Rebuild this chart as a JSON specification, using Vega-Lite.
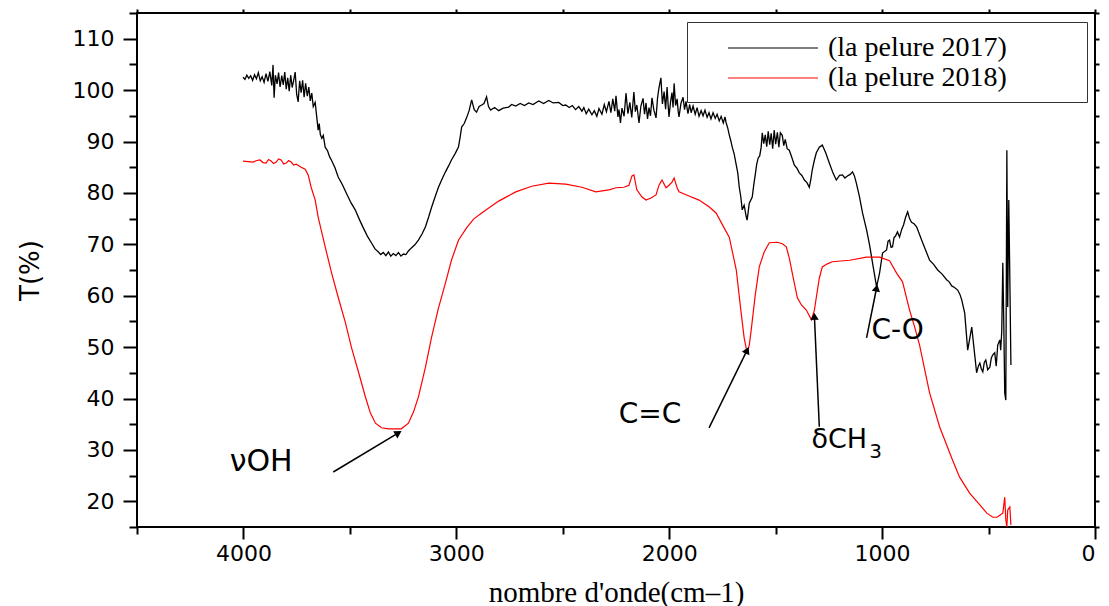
{
  "$schema": "https://vega.github.io/schema/vega-lite/v6.json",
  "autosize": {"type": "none"},
  "width": 958,
  "height": 514,
  "padding": {"left": 137, "top": 13, "right": 14, "bottom": 79},
  "background": "white",
  "config": {
    "view": {"stroke": "#000000", "strokeWidth": 2},
    "axis": {"domain": false, "grid": false, "tickColor": "#000000", "tickWidth": 2, "labelColor": "#000000", "titleColor": "#000000", "labelFont": "DejaVu Sans", "labelFontSize": 22}
  },
  "datasets": {
    "p2017": [
      {"w":4002,"t":102.5},{"w":3993,"t":102.1},{"w":3984,"t":102.9},{"w":3975,"t":102.3},{"w":3966,"t":102.8},{"w":3957,"t":101.9},{"w":3948,"t":103.0},{"w":3939,"t":102.2},{"w":3930,"t":103.4},{"w":3921,"t":101.8},{"w":3912,"t":102.6},{"w":3903,"t":101.5},{"w":3894,"t":103.2},{"w":3885,"t":101.7},{"w":3876,"t":103.6},{"w":3867,"t":100.9},{"w":3861,"t":104.9},{"w":3856,"t":98.5},{"w":3850,"t":102.9},{"w":3842,"t":101.2},{"w":3835,"t":103.4},{"w":3828,"t":100.6},{"w":3820,"t":102.8},{"w":3813,"t":101.0},{"w":3806,"t":103.5},{"w":3799,"t":100.2},{"w":3792,"t":102.4},{"w":3785,"t":99.8},{"w":3778,"t":102.9},{"w":3771,"t":100.5},{"w":3764,"t":101.9},{"w":3757,"t":103.5},{"w":3750,"t":99.2},{"w":3743,"t":97.7},{"w":3736,"t":101.8},{"w":3729,"t":99.5},{"w":3722,"t":101.9},{"w":3715,"t":98.6},{"w":3708,"t":101.3},{"w":3700,"t":98.8},{"w":3693,"t":100.6},{"w":3686,"t":97.9},{"w":3679,"t":99.4},{"w":3672,"t":96.8},{"w":3663,"t":97.6},{"w":3656,"t":94.9},{"w":3649,"t":92.2},{"w":3644,"t":93.5},{"w":3639,"t":91.4},{"w":3632,"t":90.6},{"w":3625,"t":91.2},{"w":3616,"t":88.9},{"w":3605,"t":88.2},{"w":3595,"t":87.0},{"w":3587,"t":86.4},{"w":3570,"t":84.9},{"w":3555,"t":83.1},{"w":3535,"t":81.6},{"w":3517,"t":80.0},{"w":3495,"t":78.1},{"w":3475,"t":76.7},{"w":3455,"t":74.8},{"w":3437,"t":73.2},{"w":3418,"t":71.6},{"w":3399,"t":70.3},{"w":3382,"t":69.1},{"w":3366,"t":68.5},{"w":3355,"t":68.0},{"w":3343,"t":68.4},{"w":3331,"t":67.8},{"w":3319,"t":68.5},{"w":3308,"t":67.7},{"w":3296,"t":68.2},{"w":3284,"t":67.8},{"w":3272,"t":68.4},{"w":3260,"t":67.7},{"w":3249,"t":68.1},{"w":3237,"t":68.0},{"w":3225,"t":68.7},{"w":3211,"t":69.3},{"w":3195,"t":69.9},{"w":3178,"t":70.8},{"w":3160,"t":72.1},{"w":3145,"t":73.4},{"w":3130,"t":75.3},{"w":3117,"t":77.1},{"w":3100,"t":79.2},{"w":3084,"t":81.1},{"w":3067,"t":82.7},{"w":3051,"t":84.1},{"w":3037,"t":85.2},{"w":3023,"t":86.4},{"w":3005,"t":87.7},{"w":2990,"t":88.9},{"w":2983,"t":90.6},{"w":2975,"t":92.8},{"w":2963,"t":93.5},{"w":2952,"t":94.6},{"w":2940,"t":96.0},{"w":2928,"t":98.1},{"w":2916,"t":96.2},{"w":2905,"t":95.7},{"w":2893,"t":96.8},{"w":2881,"t":97.1},{"w":2870,"t":97.4},{"w":2858,"t":98.7},{"w":2849,"t":96.8},{"w":2839,"t":96.1},{"w":2820,"t":96.6},{"w":2801,"t":96.0},{"w":2780,"t":96.5},{"w":2754,"t":96.7},{"w":2740,"t":97.2},{"w":2721,"t":96.9},{"w":2700,"t":97.4},{"w":2680,"t":97.0},{"w":2660,"t":97.5},{"w":2640,"t":97.2},{"w":2613,"t":97.9},{"w":2590,"t":97.4},{"w":2566,"t":98.0},{"w":2545,"t":97.5},{"w":2519,"t":97.6},{"w":2500,"t":97.0},{"w":2486,"t":97.1},{"w":2470,"t":96.6},{"w":2455,"t":97.0},{"w":2440,"t":96.2},{"w":2425,"t":96.8},{"w":2410,"t":95.9},{"w":2401,"t":96.6},{"w":2390,"t":95.4},{"w":2378,"t":96.3},{"w":2363,"t":95.2},{"w":2352,"t":96.0},{"w":2340,"t":94.9},{"w":2330,"t":96.4},{"w":2316,"t":95.3},{"w":2305,"t":97.2},{"w":2295,"t":95.8},{"w":2283,"t":97.8},{"w":2274,"t":95.6},{"w":2265,"t":98.3},{"w":2256,"t":95.9},{"w":2250,"t":98.9},{"w":2241,"t":94.8},{"w":2236,"t":96.2},{"w":2229,"t":93.6},{"w":2222,"t":96.5},{"w":2212,"t":94.9},{"w":2203,"t":99.4},{"w":2194,"t":95.4},{"w":2185,"t":97.6},{"w":2176,"t":94.7},{"w":2166,"t":99.6},{"w":2159,"t":95.8},{"w":2152,"t":97.1},{"w":2142,"t":93.6},{"w":2133,"t":96.9},{"w":2123,"t":98.4},{"w":2116,"t":95.3},{"w":2109,"t":97.5},{"w":2102,"t":94.4},{"w":2095,"t":96.6},{"w":2088,"t":95.0},{"w":2081,"t":98.5},{"w":2072,"t":96.1},{"w":2062,"t":94.6},{"w":2055,"t":98.4},{"w":2048,"t":100.5},{"w":2039,"t":102.4},{"w":2032,"t":97.3},{"w":2024,"t":99.7},{"w":2017,"t":96.3},{"w":2010,"t":100.6},{"w":2005,"t":97.0},{"w":2001,"t":94.8},{"w":1994,"t":97.6},{"w":1987,"t":99.5},{"w":1982,"t":96.6},{"w":1977,"t":101.3},{"w":1970,"t":97.0},{"w":1963,"t":98.3},{"w":1958,"t":95.9},{"w":1954,"t":94.8},{"w":1945,"t":97.4},{"w":1935,"t":98.6},{"w":1928,"t":96.2},{"w":1921,"t":97.8},{"w":1912,"t":95.4},{"w":1904,"t":97.2},{"w":1897,"t":95.6},{"w":1888,"t":96.9},{"w":1878,"t":95.3},{"w":1869,"t":96.6},{"w":1860,"t":94.9},{"w":1850,"t":96.0},{"w":1841,"t":95.0},{"w":1832,"t":96.1},{"w":1822,"t":94.7},{"w":1813,"t":95.6},{"w":1804,"t":94.4},{"w":1794,"t":95.6},{"w":1784,"t":94.5},{"w":1775,"t":95.3},{"w":1765,"t":94.0},{"w":1756,"t":94.9},{"w":1746,"t":93.6},{"w":1738,"t":94.8},{"w":1733,"t":93.7},{"w":1725,"t":92.6},{"w":1718,"t":91.3},{"w":1711,"t":90.2},{"w":1704,"t":88.9},{"w":1695,"t":87.6},{"w":1685,"t":85.4},{"w":1678,"t":83.9},{"w":1671,"t":81.1},{"w":1664,"t":79.3},{"w":1657,"t":76.7},{"w":1648,"t":77.6},{"w":1638,"t":75.3},{"w":1634,"t":74.7},{"w":1624,"t":78.0},{"w":1610,"t":79.2},{"w":1603,"t":81.5},{"w":1596,"t":83.5},{"w":1589,"t":85.6},{"w":1582,"t":86.8},{"w":1575,"t":87.2},{"w":1568,"t":88.9},{"w":1563,"t":91.7},{"w":1556,"t":89.6},{"w":1549,"t":91.3},{"w":1542,"t":89.0},{"w":1535,"t":92.0},{"w":1528,"t":89.4},{"w":1521,"t":91.6},{"w":1514,"t":88.6},{"w":1507,"t":92.2},{"w":1500,"t":89.5},{"w":1492,"t":91.8},{"w":1485,"t":88.9},{"w":1478,"t":91.7},{"w":1469,"t":91.2},{"w":1462,"t":89.2},{"w":1455,"t":90.4},{"w":1446,"t":88.6},{"w":1436,"t":88.3},{"w":1424,"t":86.9},{"w":1412,"t":85.4},{"w":1400,"t":84.8},{"w":1389,"t":83.9},{"w":1377,"t":83.4},{"w":1365,"t":82.5},{"w":1353,"t":82.0},{"w":1342,"t":81.1},{"w":1335,"t":82.6},{"w":1328,"t":84.5},{"w":1318,"t":86.4},{"w":1309,"t":87.8},{"w":1295,"t":88.9},{"w":1281,"t":89.3},{"w":1265,"t":87.8},{"w":1248,"t":85.8},{"w":1230,"t":83.8},{"w":1215,"t":82.5},{"w":1200,"t":83.4},{"w":1186,"t":83.5},{"w":1175,"t":82.9},{"w":1163,"t":83.3},{"w":1150,"t":83.6},{"w":1139,"t":84.1},{"w":1130,"t":83.3},{"w":1121,"t":81.9},{"w":1106,"t":79.2},{"w":1092,"t":76.1},{"w":1073,"t":72.8},{"w":1059,"t":69.9},{"w":1045,"t":66.4},{"w":1026,"t":61.7},{"w":1012,"t":64.4},{"w":998,"t":68.3},{"w":979,"t":68.9},{"w":972,"t":70.6},{"w":965,"t":70.8},{"w":958,"t":69.4},{"w":951,"t":69.5},{"w":944,"t":71.3},{"w":937,"t":71.6},{"w":928,"t":72.4},{"w":918,"t":71.4},{"w":908,"t":72.9},{"w":899,"t":73.8},{"w":890,"t":75.2},{"w":880,"t":76.3},{"w":871,"t":75.0},{"w":862,"t":74.3},{"w":850,"t":74.0},{"w":838,"t":73.4},{"w":826,"t":72.1},{"w":814,"t":70.8},{"w":795,"t":68.8},{"w":777,"t":66.9},{"w":758,"t":66.1},{"w":739,"t":65.0},{"w":718,"t":64.2},{"w":697,"t":63.1},{"w":685,"t":62.7},{"w":673,"t":61.9},{"w":660,"t":61.6},{"w":645,"t":61.1},{"w":635,"t":60.3},{"w":626,"t":59.2},{"w":612,"t":56.6},{"w":598,"t":49.4},{"w":579,"t":53.9},{"w":565,"t":48.5},{"w":556,"t":45.0},{"w":548,"t":46.3},{"w":541,"t":46.9},{"w":534,"t":45.8},{"w":527,"t":45.2},{"w":520,"t":47.0},{"w":513,"t":47.5},{"w":504,"t":45.6},{"w":494,"t":46.1},{"w":487,"t":47.9},{"w":480,"t":48.5},{"w":471,"t":48.9},{"w":464,"t":46.3},{"w":457,"t":50.4},{"w":447,"t":51.4},{"w":443,"t":49.4},{"w":438,"t":53.1},{"w":433,"t":66.4},{"w":428,"t":53.3},{"w":424,"t":41.1},{"w":419,"t":39.7},{"w":414,"t":88.3},{"w":410,"t":57.8},{"w":405,"t":78.6},{"w":400,"t":63.1},{"w":395,"t":46.5}
    ],
    "p2018": [
      {"w":4002,"t":86.2},{"w":3978,"t":86.1},{"w":3955,"t":86.0},{"w":3938,"t":86.3},{"w":3922,"t":86.4},{"w":3908,"t":85.9},{"w":3894,"t":85.8},{"w":3882,"t":86.5},{"w":3870,"t":86.2},{"w":3858,"t":85.7},{"w":3846,"t":86.0},{"w":3835,"t":86.6},{"w":3823,"t":86.4},{"w":3811,"t":85.6},{"w":3799,"t":85.8},{"w":3788,"t":86.3},{"w":3776,"t":86.0},{"w":3764,"t":85.4},{"w":3752,"t":85.6},{"w":3740,"t":85.3},{"w":3729,"t":85.0},{"w":3710,"t":84.6},{"w":3696,"t":83.5},{"w":3682,"t":81.1},{"w":3663,"t":78.6},{"w":3649,"t":75.3},{"w":3616,"t":69.5},{"w":3587,"t":64.6},{"w":3555,"t":59.7},{"w":3522,"t":54.9},{"w":3493,"t":50.0},{"w":3460,"t":45.2},{"w":3427,"t":40.3},{"w":3404,"t":37.2},{"w":3380,"t":35.2},{"w":3352,"t":34.3},{"w":3319,"t":34.1},{"w":3286,"t":34.1},{"w":3258,"t":34.1},{"w":3225,"t":35.2},{"w":3201,"t":37.4},{"w":3178,"t":40.3},{"w":3145,"t":46.1},{"w":3117,"t":51.8},{"w":3084,"t":57.6},{"w":3051,"t":62.5},{"w":3023,"t":66.9},{"w":2990,"t":70.8},{"w":2952,"t":73.2},{"w":2919,"t":74.9},{"w":2881,"t":76.1},{"w":2801,"t":78.4},{"w":2721,"t":80.2},{"w":2646,"t":81.3},{"w":2566,"t":81.9},{"w":2486,"t":81.7},{"w":2410,"t":81.1},{"w":2345,"t":80.2},{"w":2283,"t":80.6},{"w":2250,"t":81.0},{"w":2213,"t":81.1},{"w":2189,"t":81.5},{"w":2175,"t":83.3},{"w":2166,"t":83.5},{"w":2152,"t":80.6},{"w":2128,"t":79.2},{"w":2109,"t":78.6},{"w":2086,"t":79.0},{"w":2062,"t":79.6},{"w":2048,"t":81.5},{"w":2034,"t":82.5},{"w":2015,"t":81.0},{"w":2001,"t":81.5},{"w":1987,"t":82.1},{"w":1977,"t":82.9},{"w":1963,"t":81.0},{"w":1954,"t":80.2},{"w":1907,"t":79.4},{"w":1860,"t":78.6},{"w":1813,"t":77.3},{"w":1780,"t":76.1},{"w":1742,"t":73.2},{"w":1718,"t":71.4},{"w":1685,"t":65.0},{"w":1662,"t":56.6},{"w":1648,"t":51.8},{"w":1634,"t":48.9},{"w":1624,"t":50.4},{"w":1615,"t":53.3},{"w":1596,"t":60.1},{"w":1577,"t":65.6},{"w":1554,"t":68.5},{"w":1530,"t":70.3},{"w":1492,"t":70.4},{"w":1469,"t":70.1},{"w":1450,"t":69.5},{"w":1436,"t":67.3},{"w":1422,"t":64.4},{"w":1398,"t":59.6},{"w":1379,"t":58.2},{"w":1356,"t":57.2},{"w":1332,"t":55.3},{"w":1318,"t":57.2},{"w":1309,"t":59.7},{"w":1295,"t":63.4},{"w":1281,"t":65.6},{"w":1257,"t":66.2},{"w":1234,"t":66.6},{"w":1153,"t":66.9},{"w":1073,"t":67.5},{"w":1012,"t":67.5},{"w":965,"t":66.8},{"w":932,"t":64.4},{"w":904,"t":62.7},{"w":871,"t":57.2},{"w":847,"t":53.9},{"w":824,"t":50.4},{"w":777,"t":41.1},{"w":730,"t":34.5},{"w":669,"t":28.0},{"w":636,"t":24.7},{"w":589,"t":21.6},{"w":541,"t":19.3},{"w":508,"t":17.7},{"w":480,"t":16.9},{"w":461,"t":16.9},{"w":447,"t":17.3},{"w":433,"t":17.7},{"w":424,"t":20.8},{"w":419,"t":16.4},{"w":414,"t":15.0},{"w":410,"t":18.3},{"w":400,"t":18.9},{"w":395,"t":15.4}
    ],
    "arrows": [
      {"w":3578,"t":25.7,"w2":3272,"t2":33.3,"dir":59},
      {"w":1813,"t":34.3,"w2":1634,"t2":49.4,"dir":25},
      {"w":1295,"t":34.5,"w2":1318,"t2":56.0,"dir":357},
      {"w":1073,"t":51.8,"w2":1026,"t2":61.5,"dir":11}
    ],
    "notes": [
      {"label":"νOH","w":3917,"t":27.7,"fs":30},
      {"label":"C=C","w":2090,"t":36.8,"fs":28},
      {"label":"δCH","w":1201,"t":31.9,"fs":27},
      {"label":"C-O","w":927,"t":53.1,"fs":28}
    ],
    "subs": [
      {"label":"3","w":1031,"t":29.6}
    ]
  },
  "resolve": {"axis": {"x": "independent", "y": "independent"}},
  "layer": [
    {
      "data": {"name": "p2017"},
      "mark": {"type": "line", "strokeWidth": 1.3, "interpolate": "linear"},
      "encoding": {
        "x": {"field": "w", "type": "quantitative", "scale": {"domain": [0, 4500], "reverse": true, "nice": false, "zero": false},
          "axis": {"orient": "bottom", "values": [0, 1000, 2000, 3000, 4000], "tickSize": 12, "labelPadding": 4, "format": "d",
            "title": "nombre d'onde(cm–1)", "titleFont": "Liberation Serif", "titleFontSize": 29, "titleFontWeight": "normal", "titleX": 479, "titleY": 65, "titleBaseline": "middle", "titleAlign": "center"}},
        "y": {"field": "t", "type": "quantitative", "scale": {"domain": [15, 115], "nice": false, "zero": false},
          "axis": {"orient": "left", "values": [20, 30, 40, 50, 60, 70, 80, 90, 100, 110], "tickSize": 14, "labelPadding": 9,
            "title": "T(%)", "titleFont": "DejaVu Sans", "titleFontSize": 26, "titleFontWeight": "normal", "titleAngle": -90, "titleX": -107, "titleY": 257, "titleAlign": "center", "titleBaseline": "middle"}},
        "color": {"datum": "(la pelure 2017)", "type": "nominal",
          "scale": {"domain": ["(la pelure 2017)", "(la pelure 2018)"], "range": ["#000000", "#ff0000"]},
          "legend": {"title": null, "orient": "none", "legendX": 550, "legendY": 9, "symbolType": "M-3,0H3", "symbolSize": 900, "symbolStrokeWidth": 1.2,
            "labelFont": "Liberation Serif", "labelFontSize": 28, "labelColor": "#000000", "labelOffset": 39, "labelLimit": 500,
            "labelExpr": "datum.label + '\\u2003\\u2002\\u2005\\u2800'",
            "strokeColor": "#333333", "fillColor": "#ffffff", "padding": 10, "symbolOffset": 60, "rowPadding": -2}}
      }
    },
    {
      "data": {"name": "p2018"},
      "mark": {"type": "line", "strokeWidth": 1.2, "interpolate": "linear"},
      "encoding": {
        "x": {"field": "w", "type": "quantitative", "scale": {"domain": [0, 4500], "reverse": true, "nice": false, "zero": false},
          "axis": {"orient": "bottom", "values": [500, 1500, 2500, 3500, 4500], "tickSize": 7, "labels": false, "title": null}},
        "y": {"field": "t", "type": "quantitative", "scale": {"domain": [15, 115], "nice": false, "zero": false},
          "axis": {"orient": "left", "values": [15, 25, 35, 45, 55, 65, 75, 85, 95, 105, 115], "tickSize": 8, "labels": false, "title": null}},
        "color": {"datum": "(la pelure 2018)", "type": "nominal"}
      }
    },
    {
      "data": {"name": "arrows"},
      "mark": {"type": "rule", "color": "#000000", "strokeWidth": 1.5},
      "encoding": {
        "x": {"field": "w", "type": "quantitative", "scale": {"domain": [0, 4500], "reverse": true, "nice": false, "zero": false},
          "axis": {"orient": "top", "values": [0, 500, 1000, 1500, 2000, 2500, 3000, 3500, 4000, 4500], "tickSize": 4, "labels": false, "title": null}},
        "y": {"field": "t", "type": "quantitative", "scale": {"domain": [15, 115], "nice": false, "zero": false},
          "axis": {"orient": "right", "values": [15, 20, 25, 30, 35, 40, 45, 50, 55, 60, 65, 70, 75, 80, 85, 90, 95, 100, 105, 110, 115], "tickSize": 4, "labels": false, "title": null}},
        "x2": {"field": "w2"},
        "y2": {"field": "t2"}
      }
    },
    {
      "data": {"name": "arrows"},
      "mark": {"type": "point", "shape": "triangle-up", "filled": true, "color": "#000000", "size": 70, "opacity": 1},
      "encoding": {
        "x": {"field": "w2", "type": "quantitative", "scale": {"domain": [0, 4500], "reverse": true, "nice": false, "zero": false}, "axis": null},
        "y": {"field": "t2", "type": "quantitative", "scale": {"domain": [15, 115], "nice": false, "zero": false}, "axis": null},
        "angle": {"field": "dir", "type": "quantitative", "scale": null}
      }
    },
    {
      "data": {"name": "notes"},
      "mark": {"type": "text", "font": "DejaVu Sans", "color": "#000000", "align": "center", "baseline": "middle"},
      "encoding": {
        "x": {"field": "w", "type": "quantitative", "scale": {"domain": [0, 4500], "reverse": true, "nice": false, "zero": false}, "axis": null},
        "y": {"field": "t", "type": "quantitative", "scale": {"domain": [15, 115], "nice": false, "zero": false}, "axis": null},
        "text": {"field": "label"},
        "size": {"field": "fs", "type": "quantitative", "scale": null}
      }
    },
    {
      "data": {"name": "subs"},
      "mark": {"type": "text", "font": "DejaVu Sans", "color": "#000000", "align": "center", "baseline": "middle", "fontSize": 20},
      "encoding": {
        "x": {"field": "w", "type": "quantitative", "scale": {"domain": [0, 4500], "reverse": true, "nice": false, "zero": false}, "axis": null},
        "y": {"field": "t", "type": "quantitative", "scale": {"domain": [15, 115], "nice": false, "zero": false}, "axis": null},
        "text": {"field": "label"}
      }
    }
  ]
}
